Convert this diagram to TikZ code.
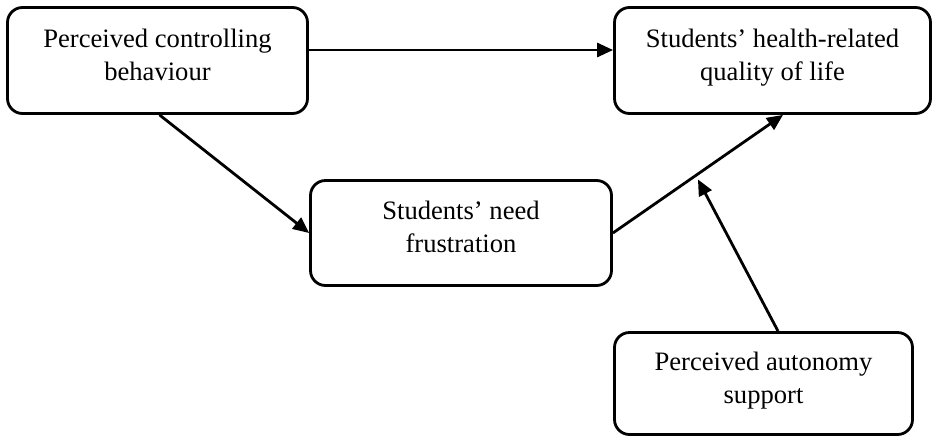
\documentclass[tikz,border=0pt]{standalone}
\usepackage{fontspec}
\setmainfont{Liberation Serif}
\usetikzlibrary{arrows.meta,calc}
\begin{document}
\begin{tikzpicture}[x=1pt,y=-1pt,
  box/.style={draw=black,line width=2.8pt,rounded corners=15pt,fill=white,
    align=center,inner sep=0pt,text depth=12pt,
    font=\fontsize{26.6pt}{33pt}\selectfont},
  conn/.style={line width=2.8pt,-{Triangle[length=16pt,width=14pt]}}]
\useasboundingbox (0,0) rectangle (933,437);
\node[box,minimum width=300pt,minimum height=106pt] (b1) at (157.5,60.5) {Perceived controlling\\behaviour};
\node[box,minimum width=316pt,minimum height=106pt] (b2) at (772.5,60.5) {Students’ health-related\\quality of life};
\node[box,minimum width=301pt,minimum height=105pt] (b3) at (461,233) {Students’ need\\frustration};
\node[box,minimum width=298pt,minimum height=102pt] (b4) at (763.5,383.5) {Perceived autonomy\\support};
\draw[conn] ([yshift=10.5pt]b1.east) -- ([yshift=10.5pt]b2.west);
\draw[conn] ([xshift=2pt]b1.south) -- (b3.west);
\coordinate (t2) at ([xshift=10.5pt]b2.south);
\draw[conn] (b3.east) -- (t2);
\coordinate (m) at ($(b3.east)!0.5!(t2)+(0,5.5)$);
\draw[conn] ([xshift=14.5pt]b4.north) -- (m);
\end{tikzpicture}
\end{document}
